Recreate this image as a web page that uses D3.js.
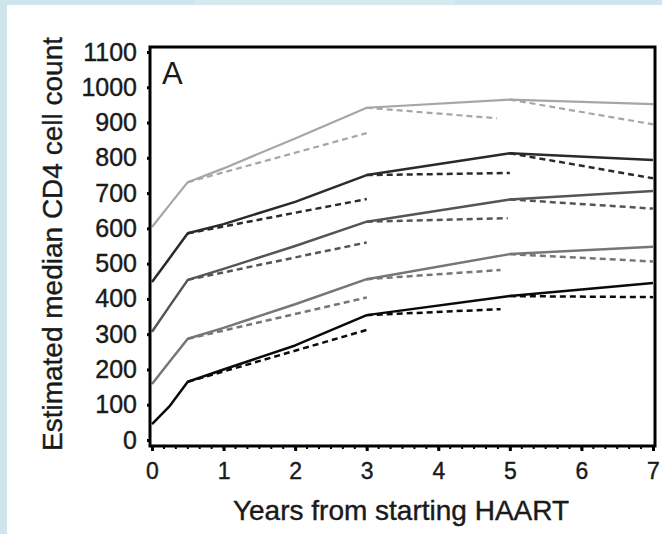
<!DOCTYPE html>
<html>
<head>
<meta charset="utf-8">
<script src="https://cdn.jsdelivr.net/npm/d3@7"></script>
<style>
  html, body { margin: 0; padding: 0; background: #cfe5ed; }
  svg { display: block; }
  text { font-family: "Liberation Sans", Arial, sans-serif; fill: #1a1a1a; }
</style>
</head>
<body>
<svg id="chart" width="662" height="534"></svg>
<script>
// ---- data ----
const yTicks = [0, 100, 200, 300, 400, 500, 600, 700, 800, 900, 1000, 1100];
const xTicks = [0, 1, 2, 3, 4, 5, 6, 7];
const solidYears = [0, 0.25, 0.5, 1, 2, 3, 5, 7];
const groups = ["g1", "g2", "g3", "g4", "g5"];
const solidG1 = [604, 668, 731, 770, 855, 942, 965, 952];
const solidG2 = [448, 517, 586, 612, 675, 751, 813, 794];
const solidG3 = [307, 381, 454, 485, 550, 619, 682, 706];
const solidG4 = [159, 223, 287, 318, 385, 456, 527, 548];
const solidG5 = [45, 97, 165, 200, 268, 354, 408, 445];
// dashed projections: start year, end year, end value (start value = solid at start year)
const dashStart = [0.5, 3, 5];
const dashEndG1 = [[3, 870], [4.82, 912], [7, 895]];
const dashEndG2 = [[3, 683], [5, 757], [7, 742]];
const dashEndG3 = [[3, 560], [4.97, 629], [7, 656]];
const dashEndG4 = [[3, 404], [4.87, 482], [7, 506]];
const dashEndG5 = [[3, 312], [4.87, 371], [7, 405]];
const groupColors = ["#a6a6a6", "#2a2a2a", "#555555", "#767676", "#0a0a0a"];
const xLabel = "Years from starting HAART";
const yLabel = "Estimated median CD4 cell count";
const panelLabel = "A";

const solids = [solidG1, solidG2, solidG3, solidG4, solidG5];
const dashEnds = [dashEndG1, dashEndG2, dashEndG3, dashEndG4, dashEndG5];

const svg = d3.select("#chart");

// background: light blue border, white panel
svg.append("rect").attr("x", 0).attr("y", 0).attr("width", 662).attr("height", 534).attr("fill", "#cfe5ed");
svg.append("rect").attr("x", 195).attr("y", 0).attr("width", 260).attr("height", 6).attr("fill", "#d6e9ef");
svg.append("rect").attr("x", 7).attr("y", 5).attr("width", 655).attr("height", 529).attr("fill", "#ffffff");

const frame = { left: 150, right: 655, top: 47, bottom: 446 };
const x = d3.scaleLinear().domain([0, 7]).range([152, 653]);
const y = d3.scaleLinear().domain([0, 1100]).range([440, 52]);

const plot = svg.append("g");

// lines
const line = d3.line().x(d => x(d[0])).y(d => y(d[1]));

groups.forEach((g, i) => {
  const pts = solidYears.map((yr, j) => [yr, solids[i][j]]);
  const w = i === 0 ? 2.2 : 2.5;
  // dashed projections
  dashStart.forEach((s, k) => {
    const startVal = solids[i][solidYears.indexOf(s)];
    const seg = [[s, startVal], dashEnds[i][k]];
    plot.append("path")
      .attr("d", line(seg))
      .attr("fill", "none")
      .attr("stroke", groupColors[i])
      .attr("stroke-width", w)
      .attr("stroke-dasharray", "6,4");
  });
  plot.append("path")
    .datum(pts)
    .attr("d", line)
    .attr("fill", "none")
    .attr("stroke", groupColors[i])
    .attr("stroke-width", w)
    .attr("stroke-linejoin", "round");
});

// frame
svg.append("rect")
  .attr("x", frame.left).attr("y", frame.top)
  .attr("width", frame.right - frame.left).attr("height", frame.bottom - frame.top)
  .attr("fill", "none").attr("stroke", "#000").attr("stroke-width", 3);

// y axis ticks and labels
const yAxis = d3.axisLeft(y).tickValues(yTicks).tickSize(3).tickPadding(10).tickFormat(d3.format("d"));
const gy = svg.append("g").attr("transform", `translate(${frame.left},0)`).call(yAxis);
gy.select(".domain").remove();
gy.selectAll(".tick line").attr("stroke", "#000").attr("stroke-width", 3);
gy.selectAll(".tick text").style("font-size", "25px").attr("fill", "#1a1a1a").attr("font-family", null)
  .attr("stroke", "#1a1a1a").attr("stroke-width", 0.4);

// x axis minor ticks
const minor = d3.range(0, 7 + 1e-9, 1 / 6);
svg.append("g").selectAll("line").data(minor).join("line")
  .attr("x1", d => x(d)).attr("x2", d => x(d))
  .attr("y1", frame.bottom).attr("y2", frame.bottom + 3)
  .attr("stroke", "#000").attr("stroke-width", 2);

const xAxis = d3.axisBottom(x).tickValues(xTicks).tickSize(5).tickPadding(12).tickFormat(d3.format("d"));
const gx = svg.append("g").attr("transform", `translate(0,${frame.bottom})`).call(xAxis);
gx.select(".domain").remove();
gx.selectAll(".tick line").attr("stroke", "#000").attr("stroke-width", 3);
gx.selectAll(".tick text").style("font-size", "23px").attr("fill", "#1a1a1a").attr("font-family", null)
  .attr("stroke", "#1a1a1a").attr("stroke-width", 0.4);

// titles
svg.append("text")
  .attr("x", 401).attr("y", 520)
  .attr("text-anchor", "middle")
  .style("font-size", "28px")
  .attr("stroke", "#1a1a1a").attr("stroke-width", 0.4)
  .text(xLabel);

svg.append("text")
  .attr("transform", "translate(62,244) rotate(-90)")
  .attr("text-anchor", "middle")
  .style("font-size", "28px")
  .attr("stroke", "#1a1a1a").attr("stroke-width", 0.4)
  .text(yLabel);

svg.append("text")
  .attr("x", 162).attr("y", 84)
  .style("font-size", "31px")
  .text(panelLabel);
</script>
</body>
</html>
